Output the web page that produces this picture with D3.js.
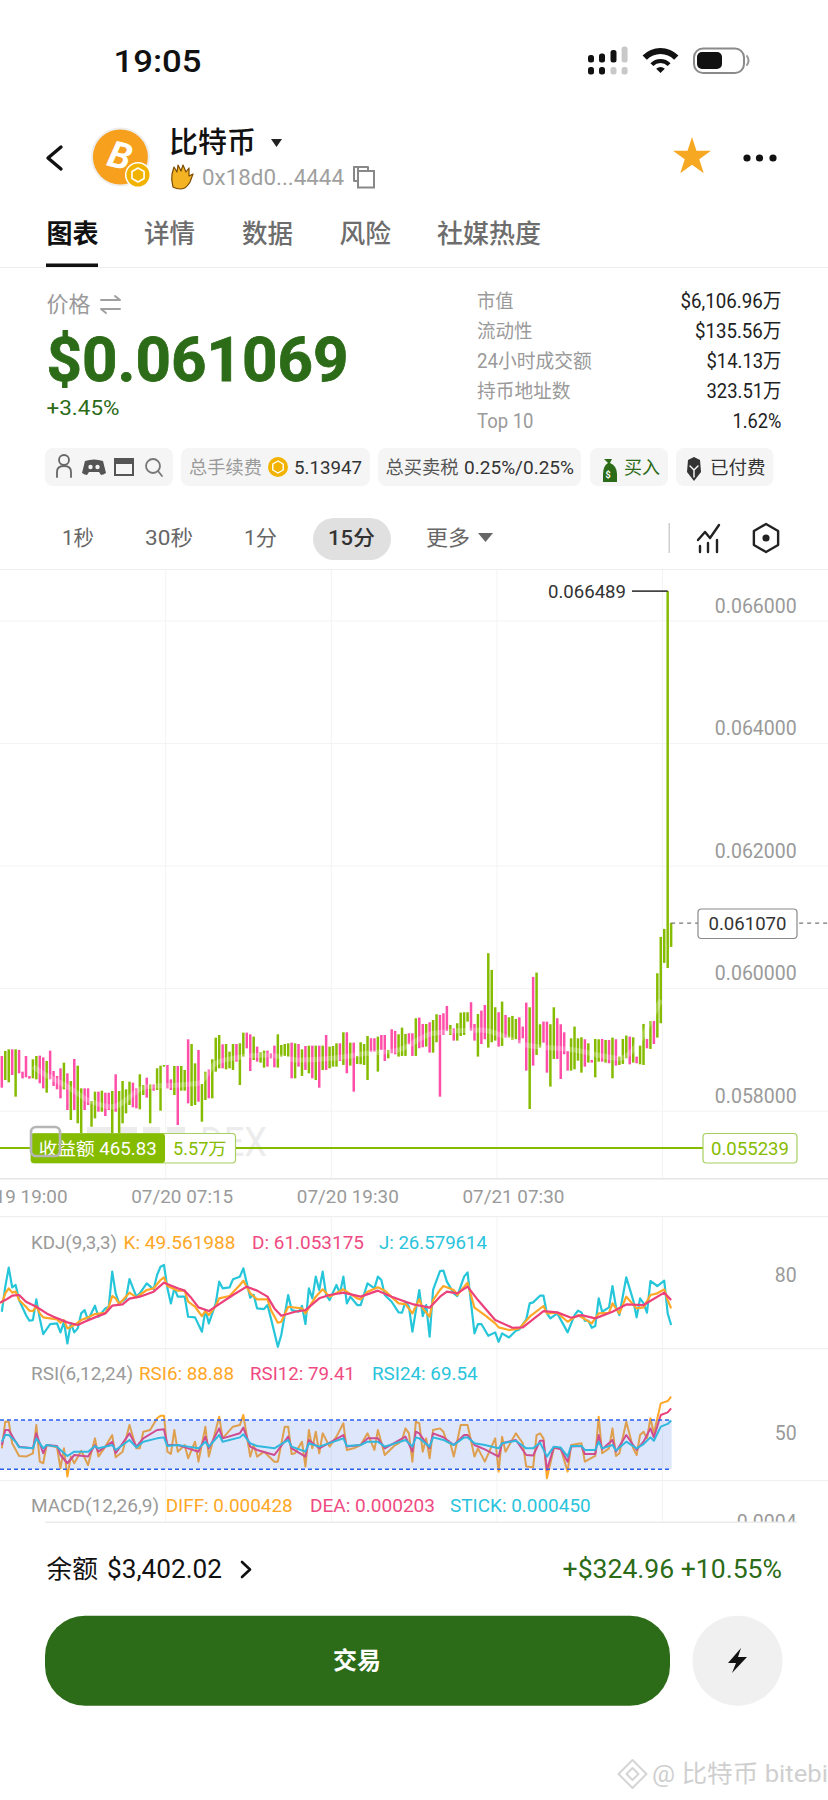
<!DOCTYPE html>
<html><head><meta charset="utf-8">
<script src="https://cdn.jsdelivr.net/npm/d3@7/dist/d3.min.js"></script>
<style>html,body{margin:0;padding:0;background:#fff}svg{display:block}
text{font-family:Roboto,"Noto Sans CJK SC",sans-serif}</style></head><body>
<svg id="c" width="828" height="1800" viewBox="0 0 828 1800"></svg>
<script>
// ---------- data: prices in millionths of a dollar ----------
const highs=[58901,58983,59010,59010,59010,59000,58645,58901,58575,58847,58901,58907,58879,58820,58988,58656,58575,58700,58792,58618,58493,58852,58743,58373,58373,58373,58166,58319,58319,58335,58302,58302,58330,58602,58330,58493,58357,58482,58466,58373,58602,58428,58547,58438,58438,58700,58743,58754,58754,58520,58738,58738,58738,58673,59173,59097,58781,59000,58444,58645,58683,58847,59200,59244,59092,59097,58972,59097,59097,59108,59282,59282,59255,59217,59054,58961,58988,58988,58945,59070,59255,59081,59097,59108,59119,59108,59097,59010,59064,59070,59070,59070,59070,59070,59244,59054,59064,59108,59108,59288,59288,59119,59119,58902,59125,59097,59228,59190,59190,59217,59244,59244,59000,59337,59310,59255,59364,59261,59272,59272,59517,59528,59424,59424,59451,59489,59582,59571,59598,59718,59408,59353,59435,59609,59615,59615,59778,59424,59587,59642,59734,60578,60306,59696,59615,59789,59571,59533,59555,59506,59533,59381,59772,59696,60192,60262,59419,59462,59462,59419,59696,59517,59419,59288,58983,59190,59381,59190,59206,59174,59108,58836,59179,59174,59179,59163,59163,59201,59174,58891,59179,59234,59217,59206,58891,59070,59424,59179,59473,59473,60251,60845,60975,66489,61073];
const lows=[58384,58509,58471,58591,58237,58618,58536,58553,58531,58536,58520,58455,58373,58302,58520,58411,58357,58210,58357,58019,57856,58019,57802,57611,58019,58101,57747,57883,57992,57992,57921,58019,57638,57992,57638,57802,57965,58101,58063,58047,58030,58264,58221,57802,58335,58346,58008,58727,58373,58346,58264,57774,58335,58335,58128,58085,58101,58155,57829,58183,58210,58210,58645,58700,58700,58683,58700,58673,58809,58428,58890,59026,58656,58836,58809,58792,58711,58727,58863,58716,58711,58890,58901,58890,58536,58536,58727,58575,58673,58618,58536,58509,58384,58673,58673,58700,58727,58727,58820,58755,58619,58744,58319,58771,58766,58755,58510,58972,58972,58646,59000,58820,58863,58945,58929,58891,58902,58902,59092,58902,58902,59027,59043,59054,58956,58956,59125,58237,59244,59310,59244,59152,59152,59228,59244,59462,59315,59152,58891,59097,59174,59038,59125,59152,59054,59065,59201,59201,59163,59174,59108,59190,58662,58036,58744,58918,59038,59119,58629,58401,58853,58853,58526,58929,58662,58662,58684,58825,58629,58727,58793,58793,58553,58809,58809,58793,58782,58537,58744,58755,58771,58863,58765,58793,58782,58765,58755,59027,59016,59097,59201,59435,60420,60338,60681];
// 1 = green, 0 = pink
const candleUp=[0,1,1,0,1,0,0,0,0,1,1,0,0,1,0,0,0,0,1,0,1,0,1,1,0,0,1,1,0,1,0,0,1,0,1,1,1,1,0,0,1,1,0,1,0,1,1,1,0,0,1,0,1,1,0,1,1,0,1,1,0,1,1,1,0,1,1,1,0,1,1,0,0,1,0,1,1,0,0,0,1,1,1,1,0,1,0,1,0,1,0,1,0,1,0,1,1,1,0,1,0,1,0,1,1,1,1,0,0,1,0,0,1,0,0,1,1,1,0,0,1,0,0,1,0,1,1,0,0,0,1,0,1,1,1,1,0,0,1,0,0,1,1,1,0,1,0,1,1,1,0,0,0,1,0,1,1,0,0,1,1,0,0,0,0,1,1,1,1,0,1,0,1,1,0,1,0,1,0,1,1,1,0,1,0,1,1,0,1,0,1,1,1,1,1];
const fadeBand=[[9,58727],[12,58618],[19,58401],[25,58183],[32,58074],[42,58401],[51,58428],[57,58455],[62,58782],[67,58863],[77,58918],[86,58836],[96,58863],[106,58945],[115,59000],[125,59272],[139,59326],[152,59081],[166,58999],[179,58863],[191,59816]];
const priceTicks=[58000,60000,62000,64000,66000];
const timeTickIdx=[-0.5,47.5,95.5,143.5,191.5];
const timeTickLabels=["07/19 19:00","07/20 07:15","07/20 19:30","07/21 07:30",""];
const lastPrice=61070, highPrice=66489;
const kdjJ=[[0,44.9],[1,79.5],[2,105.7],[3,78.6],[4,81.8],[5,61],[7,40.3],[8,32.5],[9,33.4],[10,62],[11,35.7],[12,14],[14,27.9],[16,28.8],[17,16.4],[18,31.1],[19,1.1],[20,28.8],[21,16.4],[22,21.9],[23,42.6],[24,47.2],[25,33.4],[27,53.2],[28,38],[30,49.5],[31,51.8],[32,100.2],[33,70.3],[34,56.4],[36,63.4],[37,90],[39,65.7],[40,70.3],[42,84.1],[44,75.8],[45,95.6],[46,107.1],[47,109.4],[48,77.2],[49,56.4],[50,77.2],[51,65.7],[53,65.7],[54,38],[56,37.1],[58,17.3],[59,47.2],[60,28.8],[62,56.4],[63,86.4],[64,77.2],[66,78.6],[67,89.6],[69,93.3],[70,104.8],[72,64.3],[73,68],[74,49.5],[76,48.6],[77,54.1],[78,35.7],[80,-3.5],[81,12.7],[83,68],[84,47.2],[86,44.9],[87,52.8],[88,27.9],[89,77.2],[90,63.4],[91,93.3],[92,74.9],[93,100.2],[94,68],[95,61],[97,81.8],[98,70.3],[99,93.3],[100,56.4],[101,65.7],[103,54.1],[104,54.1],[106,84.1],[108,77.2],[109,93.3],[110,88.7],[111,68],[113,58.7],[115,44],[116,43.5],[117,58.7],[118,51.8],[119,17.3],[121,74.9],[122,38.9],[123,54.1],[124,10.4],[125,74.9],[127,101.1],[128,101.6],[129,86.4],[131,70.3],[132,66.6],[134,93.3],[135,99.3],[137,15],[138,27.9],[139,27.9],[141,11.7],[143,16.4],[144,3.4],[145,15],[147,9.4],[149,18.6],[150,20.5],[152,34.3],[153,56.4],[154,57.8],[156,67],[157,67],[158,42.6],[159,35.7],[161,42.6],[164,16.4],[166,40.3],[167,46.3],[168,44],[169,32.5],[170,32.5],[171,22.8],[172,25.1],[173,63.4],[174,44.9],[176,50.9],[177,80.4],[178,51.8],[179,40.3],[181,92.4],[183,61],[184,37.1],[185,63.4],[186,56.4],[187,43.5],[188,87.3],[190,80.4],[192,87.8],[193,42.6],[194,26.58]];
const kdjK=[[0,56.4],[1,70.3],[2,77.2],[3,71.2],[4,72.6],[5,61],[7,51.8],[8,46.3],[9,45.8],[10,52.8],[11,42.6],[12,37.1],[16,34.3],[17,29.7],[18,33.4],[19,21.9],[21,26.5],[23,33.4],[25,37.1],[27,41.7],[30,43.5],[31,51.8],[32,66.6],[33,63.4],[34,55.5],[37,71.2],[39,64.7],[42,74.9],[44,77.2],[46,88.7],[47,92.4],[48,80.4],[51,74],[53,74],[54,58.7],[56,51.8],[58,38.9],[59,45.8],[60,40.3],[62,52.8],[63,63.4],[66,66.6],[69,81.8],[70,87.8],[72,70.3],[74,62],[77,62],[78,47.2],[80,29.7],[81,31.1],[83,51.8],[87,49.5],[88,42.6],[91,65.7],[93,75.8],[95,65.7],[99,75.8],[103,63.4],[104,62],[106,72.6],[109,78.6],[111,74],[115,56.4],[117,55.5],[119,42.6],[121,62],[122,49.5],[124,38],[125,61],[127,74.9],[128,80.4],[131,74.9],[132,68],[135,85],[137,50.5],[140,40.3],[143,28.8],[144,23.3],[147,19.6],[150,21.9],[153,38],[157,52.8],[158,42.6],[161,43.5],[164,31.1],[167,40.3],[171,28.8],[173,42.6],[176,43.5],[177,56.4],[179,42.6],[181,65.7],[184,49.5],[186,50.9],[188,68],[190,70.3],[192,75.8],[193,61],[194,49.56]];
const kdjD=[[-1,56.4],[1,61],[3,67],[5,68],[7,58.7],[10,51.8],[13,42.6],[15,38],[19,30.2],[22,26.5],[24,31.1],[27,37.1],[30,42.6],[32,53.2],[35,55],[37,62.9],[40,65.7],[44,72.6],[47,85],[51,77.2],[53,74],[55,63.4],[57,50.9],[60,45.8],[63,55.5],[67,68],[71,79.5],[74,74],[77,65.7],[79,49.5],[81,39.4],[85,44.9],[88,47.2],[92,63.4],[95,68],[99,71.2],[104,65.7],[109,74],[113,65.7],[117,58.7],[119,55.5],[124,50.5],[127,65.7],[129,72.6],[132,70.3],[135,79.5],[138,61],[143,33.4],[148,22.8],[151,23.3],[157,45.8],[161,44],[165,36.6],[168,40.3],[172,35.7],[177,44.9],[181,55],[186,54.1],[192,71.2],[194,61.05]];
const rsi6=[[0,47],[1,68.6],[2,68.6],[3,51.1],[5,40.8],[7,40.3],[9,43],[10,65.9],[11,36.2],[12,34.9],[13,49.7],[16,47.8],[17,30.8],[18,47],[19,24.1],[20,40.3],[21,34.9],[23,45.1],[25,33.5],[27,55.1],[28,40.3],[30,48.4],[32,57.8],[33,39.7],[35,44.3],[37,65.9],[39,47],[40,47],[41,60.5],[43,61.9],[45,71.4],[46,73.5],[47,73.5],[48,44.3],[49,42.4],[50,61.9],[51,44.3],[53,49.7],[54,38.9],[56,52.4],[57,36.2],[59,64.6],[60,40.3],[62,61.9],[63,72.7],[64,55.1],[67,64.6],[69,65.9],[70,74.1],[72,40.3],[73,49.7],[74,40.3],[76,44.3],[79,36.2],[80,36.2],[82,64.6],[83,64.6],[84,42.4],[85,43],[87,52.4],[88,32.2],[89,61.9],[90,47],[91,60.5],[92,43],[93,59.2],[95,48.4],[97,56.5],[99,67.3],[100,45.7],[102,47],[104,49.7],[106,59.2],[108,45.7],[109,61.9],[111,41.6],[114,49.7],[115,51.1],[116,53.8],[117,63.2],[118,59.2],[119,36.2],[120,68.6],[121,67.3],[122,44.3],[123,55.1],[124,38.9],[125,61.9],[127,63.2],[128,60.5],[129,52.4],[130,51.1],[131,40.3],[133,65.9],[135,65.9],[137,40.3],[138,47],[140,36.2],[143,55.1],[144,28.1],[145,56.5],[146,44.3],[149,59.2],[151,51.1],[152,32.2],[154,31.6],[155,57.8],[156,59.2],[157,55.1],[158,22.7],[160,47],[162,47],[164,28.1],[165,49.7],[168,51.1],[169,36.2],[172,40.8],[173,72.7],[174,43],[176,47],[177,63.2],[178,40.8],[179,43],[181,68.6],[183,47],[184,41.6],[185,57.8],[186,60.5],[187,55.1],[188,71.4],[189,59.2],[191,83.5],[193,85.4],[194,88.88]];
const rsi12=[[0,49.7],[1,61.9],[2,61.9],[4,52.4],[5,48.4],[9,47],[10,59.2],[12,43],[13,49.7],[16,48.9],[17,41.6],[19,34.9],[21,41.6],[25,40.3],[27,49.7],[28,44.3],[32,52.4],[33,43],[37,59.2],[39,48.4],[41,55.1],[45,61.9],[47,62.4],[48,49.7],[51,49.7],[54,47],[57,44.3],[59,56.5],[60,47],[63,63.2],[64,55.1],[69,59.2],[70,63.8],[72,48.4],[74,45.7],[79,41.6],[83,56.5],[84,47],[88,40.3],[89,53.8],[92,47],[99,57.8],[100,48.4],[104,49.7],[106,55.1],[109,55.1],[111,47],[117,56.5],[119,44.3],[120,60.5],[121,59.2],[124,47],[125,59.2],[128,56],[131,49.7],[134,57.8],[135,57.8],[137,49.7],[140,46.2],[144,40.3],[145,51.1],[149,53.8],[152,41.6],[154,41.1],[156,53.2],[157,53.2],[158,29.5],[160,47.8],[162,46.2],[164,36.2],[165,48.4],[168,48.9],[169,42.4],[172,42.4],[173,57.8],[174,46.2],[177,53.8],[178,44.3],[181,57.8],[184,45.7],[186,52.4],[188,63.2],[189,55.9],[191,74.1],[193,76.2],[194,79.41]];
const rsi24=[[0,52.4],[1,57.8],[2,57.8],[4,52.4],[5,47.8],[9,47],[10,55.1],[12,47],[13,49.7],[16,48.4],[17,45.7],[19,40.8],[21,44.3],[25,44.3],[27,48.9],[28,47],[32,49.7],[33,45.7],[37,53.8],[39,47.8],[41,52.4],[45,55.1],[47,55.9],[48,48.9],[51,49.7],[54,48.4],[57,47],[59,52.4],[60,48.4],[63,57.8],[64,52.4],[69,55.9],[70,58.4],[72,51.1],[74,48.9],[79,47],[83,53.8],[84,48.4],[88,44.3],[89,51.1],[92,48.4],[99,55.1],[100,48.9],[104,49.7],[106,52.4],[109,52.4],[111,48.4],[117,53.8],[119,48.4],[120,55.9],[121,55.1],[124,48.4],[125,55.9],[128,53.8],[131,49.7],[134,55.9],[135,55.9],[137,51.1],[140,49.7],[144,47],[145,51.1],[149,53.2],[152,47],[154,47],[156,51.6],[158,40.3],[160,48.4],[162,47.6],[164,40.3],[165,48.9],[168,48.9],[169,45.7],[172,45.7],[173,52.4],[174,47],[177,49.7],[178,45.2],[181,52.4],[184,47],[186,50.5],[188,55.9],[189,53.2],[191,64.6],[193,66.8],[194,69.54]];
const rsiBand=[30,70];
const tabs=["图表","详情","数据","风险","社媒热度"];
const intervals=["1秒","30秒","1分","15分","更多"];
const stats=[["市值","$6,106.96万"],["流动性","$135.56万"],["24小时成交额","$14.13万"],["持币地址数","323.51万"],["Top 10","1.62%"]];

// ---------- helpers ----------
const svg=d3.select("#c");
const GREEN="#2c6b17",CG="#86bc00",CP="#ff4fa8",OR="#ffa726",PK="#ec407a",CY="#26c6da",GR="#9a9a9a";
function t(s,x,y,o={}){const e=(o.g||svg).append("text").text(s).attr("x",x).attr("y",y)
 .attr("dominant-baseline","central").attr("font-size",o.size||18).attr("fill",o.fill||"#222")
 .attr("font-weight",o.weight||400).attr("text-anchor",o.anchor||"start");
 if(o.w)e.attr("textLength",o.w).attr("lengthAdjust","spacingAndGlyphs");
 if(o.family)e.style("font-family",o.family);return e;}
const R=(x,y,w,h,f,r=0)=>svg.append("rect").attr("x",x).attr("y",y).attr("width",w).attr("height",h).attr("fill",f).attr("rx",r);
const P=(d,f,s,sw)=>svg.append("path").attr("d",d).attr("fill",f||"none").attr("stroke",s||"none").attr("stroke-width",sw||0).attr("stroke-linecap","round").attr("stroke-linejoin","round");
const C=(x,y,r,f)=>svg.append("circle").attr("cx",x).attr("cy",y).attr("r",r).attr("fill",f);

// ---------- scales ----------
const x=d3.scaleLinear().domain([0,194]).range([1.83,671.13]);
const y=d3.scaleLinear().domain([58000,66000]).range([1111.2,621]);
const yK=d3.scaleLinear().domain([80,26.58]).range([1286.3,1325]);
const yR=d3.scaleLinear().domain([70,30]).range([1420,1469.3]);

// ---------- status bar ----------
t("19:05",113.5,61.5,{size:31,weight:500,fill:"#111",w:88});
[591,602,613.5,624.6].forEach((cx,i)=>{const top=[55,53.5,50,46.5][i];
 R(cx-3,top,6,62.5-top,i==3?"#c8c8c8":"#111",2.5);R(cx-3,67,6,7.5,i<2?"#111":"#c8c8c8",2.5);});
const arc=d3.arc();[[0,6],[10,14],[19,25]].forEach(([a,b])=>
 P(arc({innerRadius:a,outerRadius:b,startAngle:-0.8,endAngle:0.8}),"#111").attr("transform","translate(660.5,73)"));
svg.append("rect").attr("x",694).attr("y",48.5).attr("width",50).attr("height",24.5).attr("rx",9).attr("fill","#fff").attr("stroke","#8a8a8a").attr("stroke-width",2);
R(697,52,25,17,"#111",5);P("M747 56q3 4.500 0 9","none","#999",2);

// ---------- header ----------
P("M61 147L48 158L61 169","none","#111",3.4);
C(120.4,157,29.5,"#eee");C(120.4,157,27.5,"#f6a01e");
t("B",120,156,{size:37,weight:700,fill:"#fff",anchor:"middle"}).attr("transform","rotate(14 120 156)").attr("font-style","italic");
C(138,175,13,"#fff");C(138,175,11.500,"#f2b300");
P(d3.line()(d3.range(6).map(i=>[138+7*Math.sin(i*Math.PI/3),175-7*Math.cos(i*Math.PI/3)]))+"Z","none","#fff",1.6);
t("比特币",169,143,{size:29,weight:500,fill:"#111",w:87});
P("M271 139h11l-5.500 8z","#222");
P("M173 187q-2-7-1-13l2-7 3 5 1-7 3 6 2-6 3 7 3-4 0 8 4-2-3 8q-4 7-9 7q-5 0-8-2z","#f4b322","#7a4b00",1.2);
t("0x18d0...4444",202,177,{size:22,fill:"#a0a0a0",w:142});
svg.append("rect").attr("x",358).attr("y",171).attr("width",16).attr("height",16.5).attr("fill","#fff").attr("stroke","#888").attr("stroke-width",2);
P("M358 171v-4h-4v14h4","none","#888",2);P("M354 167h14v4","none","#888",2);
P(d3.symbol(d3.symbolStar,449)(),"#f7a823").attr("transform","translate(692,157)");
[747,759.5,773].forEach(cx=>C(cx,158,3.6,"#111"));

// ---------- tabs ----------
[[46.5,52],[144,51],[242,51],[339.5,51.5],[437,104]].forEach(([tx,tw],i)=>
 t(tabs[i],tx,234,{size:26,weight:i==0?700:500,fill:i==0?"#111":"#6d6d6d",w:tw}));
R(0,267,828,1,"#eeeeee");R(46,263.500,52,3.500,"#111");

// ---------- price block ----------
t("价格",46.5,304.6,{size:22,fill:GR,w:44});
P("M101 300h19l-5-4M120 309h-19l5 4","none","#a0a0a0",2);
t("$0.061069",46.5,359,{size:62,weight:700,fill:GREEN,w:302}).attr("stroke",GREEN).attr("stroke-width",.8);
t("+3.45%",46.5,408,{size:21,fill:GREEN,w:73});
const labelW=[36.5,55.5,114.6,93.5,56.5], valueW=[101,86.6,75,75,49];
stats.forEach((d,i)=>{const ry=301+i*30.1;
 t(d[0],477,ry,{size:19.500,fill:GR,w:labelW[i]});t(d[1],781.5,ry,{size:20,fill:"#222",anchor:"end",w:valueW[i]});});

// ---------- chips ----------
[[45,128],[181,189],[378,203],[590,78],[676,97.5]].forEach(([cx,cw])=>R(cx,448,cw,38,"#f5f5f5",8));
svg.append("circle").attr("cx",64).attr("cy",460).attr("r",5).attr("fill","none").attr("stroke","#666").attr("stroke-width",1.8);
P("M57 477v-5q0-6 7-6t7 6v5","none","#666",1.8);
P("M85 461q9-3 18 0l3 12q-3 2-5 2l-2-3h-10l-2 3q-2 0-5-2z","#555");
C(90.5,467,2.2,"#f5f5f5");C(97.5,467,2.2,"#f5f5f5");
svg.append("rect").attr("x",115).attr("y",459).attr("width",18).attr("height",16).attr("fill","none").attr("stroke","#555").attr("stroke-width",2);R(115,459,18,5,"#555");
svg.append("circle").attr("cx",153).attr("cy",466).attr("r",7).attr("fill","none").attr("stroke","#777").attr("stroke-width",1.8);P("M158 471l4 5","none","#777",1.8);
t("总手续费",189,467,{size:18,fill:GR,w:73});
C(278,467,10,"#f2b300");P(d3.line()(d3.range(6).map(i=>[278+6*Math.sin(i*Math.PI/3),467-6*Math.cos(i*Math.PI/3)]))+"Z","none","#fff",1.4);
t("5.13947",294,467,{size:18,fill:"#333",w:68});
t("总买卖税",385.5,467,{size:18,fill:"#555",w:73});
t("0.25%/0.25%",464,467,{size:18,fill:"#333",w:110});
P("M604 459h8l-2 4q7 3 7 11v8h-14v-8q0-8 5-11z",GREEN);t("$",608,475,{size:9,fill:"#fff",anchor:"middle",weight:700});
t("买入",624,467,{size:18,fill:GREEN,w:36});
P("M688 460l6-3 6 3 1 12-7 9-7-9z","#333");P("M690 466l4 4 4-4M694 470v7","none","#fff",1.4);
t("已付费",710,467,{size:18,fill:"#333",w:55.500});

// ---------- interval row ----------
R(313,518,78,42,"#e0e0e0",21);
[[62,32],[145,48],[244,33],[328,47],[426,44]].forEach(([ix,iw],i)=>
 t(intervals[i],ix,538,{size:21,weight:i==3?500:400,fill:i==3?"#333":"#666",w:iw}));
P("M478 533h15l-7.500 9z","#666");
R(668.5,523,1.500,30,"#cfcfcf");
P("M698 540l7-8 5 6 9-13","none","#222",2.4);["M700 552v-6","M708 552v-9","M717 552v-12"].forEach(d=>P(d,"none","#222",2.4));
P(d3.line()(d3.range(6).map(i=>[766+14*Math.sin(i*Math.PI/3),538-14*Math.cos(i*Math.PI/3)]))+"Z","none","#222",2.4);C(766,538,3.6,"#222");

// ---------- main chart ----------
R(0,569,828,1,"#eeeeee");
const wm=svg.append("g").attr("fill","#ececec");
[[87,26],[120,17],[143,17],[167,18]].forEach(([a,b])=>wm.append("rect").attr("x",a).attr("y",1127).attr("width",b).attr("height",8));
t("DEX",200,1142,{size:40,fill:"#ececec",g:wm,w:67});
const grid=svg.append("g").attr("stroke","#f3f3f3").attr("stroke-width",1);
priceTicks.forEach(v=>grid.append("line").attr("x1",0).attr("x2",828).attr("y1",y(v)).attr("y2",y(v)));
timeTickIdx.slice(1).forEach(i=>{grid.append("line").attr("x1",x(i)).attr("x2",x(i)).attr("y1",570).attr("y2",1178);
 grid.append("line").attr("x1",x(i)).attr("x2",x(i)).attr("y1",1216).attr("y2",1522);});
R(0,1178,828,1.500,"#e6e6e6");

// candles
svg.append("g").selectAll("line").data(highs).join("line")
 .attr("x1",(d,i)=>x(i)).attr("x2",(d,i)=>x(i))
 .attr("y1",d=>y(d)).attr("y2",(d,i)=>y(lows[i]))
 .attr("stroke",(d,i)=>candleUp[i]?CG:CP).attr("stroke-width",2.5);
svg.append("path").attr("d",d3.line().x(d=>x(d[0])).y(d=>y(d[1])).curve(d3.curveMonotoneX)(fadeBand))
 .attr("fill","none").attr("stroke","#fff").attr("stroke-opacity",.25).attr("stroke-width",5);

// price axis
const pa=svg.append("g").attr("transform","translate(796.7,0)")
 .call(d3.axisLeft(y).tickValues(priceTicks).tickSize(0).tickFormat(d=>(d/1e6).toFixed(6)));
pa.select(".domain").remove();
pa.selectAll("text").attr("x",0).attr("dy",0).attr("dominant-baseline","central").attr("transform","translate(0,-15.5)")
 .attr("font-size",19.5).attr("fill",GR).style("font-family","Roboto").attr("text-anchor","end");

// high marker
t((highPrice/1e6).toFixed(6),548,y(highPrice),{size:19,fill:"#333",w:78});
svg.append("line").attr("x1",632).attr("x2",x(193)).attr("y1",y(highPrice)).attr("y2",y(highPrice)).attr("stroke","#444").attr("stroke-width",1.8);
// last price
svg.append("line").attr("x1",x(194)).attr("x2",828).attr("y1",y(lastPrice)).attr("y2",y(lastPrice)).attr("stroke","#777").attr("stroke-dasharray","4 4").attr("stroke-width",1.2);
svg.append("rect").attr("x",698).attr("y",909).attr("width",99).attr("height",29.5).attr("rx",3.500).attr("fill","#fff").attr("stroke","#8a8a8a").attr("stroke-width",1.2);
t((lastPrice/1e6).toFixed(6),747.5,923.7,{size:19,fill:"#333",anchor:"middle",w:78});

// position line
svg.append("line").attr("x1",0).attr("x2",703).attr("y1",1148).attr("y2",1148).attr("stroke",CG).attr("stroke-width",1.8);
svg.append("rect").attr("x",703).attr("y",1133.5).attr("width",94).attr("height",29.5).attr("rx",3.500).attr("fill","#fff").attr("stroke","#a8d060").attr("stroke-width",1.2);
t("0.055239",750,1148.5,{size:19,fill:CG,anchor:"middle",w:78});
svg.append("rect").attr("x",31).attr("y",1133.5).attr("width",204.5).attr("height",29.5).attr("rx",3.500).attr("fill","#fff").attr("stroke","#a8d060").attr("stroke-width",1.2);
R(31,1133.5,134,29.5,CG,3);
t("收益额 465.83",38.7,1148.5,{size:17.5,fill:"#fff",w:118});
t("5.57万",173,1148.5,{size:17.5,fill:CG,w:53.5});
svg.append("rect").attr("x",31).attr("y",1127).attr("width",29).attr("height",29).attr("rx",5).attr("fill","none").attr("stroke","#b5b5b5").attr("stroke-width",2.6);

// time axis
const ta=svg.append("g").attr("transform","translate(0,1178)")
 .call(d3.axisBottom(x).tickValues(timeTickIdx).tickSize(0).tickFormat((d,i)=>timeTickLabels[i]));
ta.select(".domain").remove();
ta.selectAll("text").attr("y",0).attr("dy",0).attr("dominant-baseline","central").attr("transform","translate(16,18.7)")
 .attr("font-size",19).attr("fill",GR).style("font-family","Roboto").attr("text-anchor","middle").attr("textLength",102).attr("lengthAdjust","spacingAndGlyphs");

// ---------- KDJ ----------
R(0,1216,828,1.200,"#efefef");R(0,1348,828,1.200,"#efefef");R(0,1480,828,1.200,"#f1f1f1");
[["KDJ(9,3,3)",31,86,GR],["K: 49.561988",123.5,112,OR],["D: 61.053175",252,112,"#ef4a81"],["J: 26.579614",379,108,"#29c4dc"]].forEach(d=>t(d[0],d[1],1242,{size:18,fill:d[3],w:d[2]}));
const lineOf=s=>d3.line().x(d=>x(d[0])).y(d=>s(d[1]));
[[kdjJ,CY],[kdjK,OR],[kdjD,PK]].forEach(([a,c])=>svg.append("path").attr("d",lineOf(yK)(a)).attr("fill","none").attr("stroke",c).attr("stroke-width",2.2).attr("stroke-linejoin","round"));
const ka=svg.append("g").attr("transform","translate(796.7,0)").call(d3.axisLeft(yK).tickValues([80]).tickSize(0));
ka.select(".domain").remove();
ka.selectAll("text").attr("x",0).attr("dy",0).attr("dominant-baseline","central").attr("transform","translate(0,-11.3)").attr("font-size",19.5).attr("fill",GR).style("font-family","Roboto").attr("text-anchor","end");

// ---------- RSI ----------
[["RSI(6,12,24)",31,102,GR],["RSI6: 88.88",139,95,OR],["RSI12: 79.41",250,105,"#ef4a81"],["RSI24: 69.54",372,105.700,"#29c4dc"]].forEach(d=>t(d[0],d[1],1373,{size:18,fill:d[3],w:d[2]}));
[[rsi6,OR],[rsi12,PK],[rsi24,CY]].forEach(([a,c])=>svg.append("path").attr("d",lineOf(yR)(a)).attr("fill","none").attr("stroke",c).attr("stroke-width",2).attr("stroke-linejoin","round"));
svg.append("rect").attr("x",0).attr("y",yR(rsiBand[1])).attr("width",x(194)+.5).attr("height",yR(rsiBand[0])-yR(rsiBand[1])).attr("fill","#5a82f0").attr("fill-opacity",.2);
rsiBand.forEach(v=>svg.append("line").attr("x1",0).attr("x2",x(194)+.5).attr("y1",yR(v)).attr("y2",yR(v)).attr("stroke","#2a5ff0").attr("stroke-width",1.5).attr("stroke-dasharray","4 3"));
const ra=svg.append("g").attr("transform","translate(796.7,0)").call(d3.axisLeft(yR).tickValues([50]).tickSize(0));
ra.select(".domain").remove();
ra.selectAll("text").attr("x",0).attr("dy",0).attr("dominant-baseline","central").attr("transform","translate(0,-11.700)").attr("font-size",19.5).attr("fill",GR).style("font-family","Roboto").attr("text-anchor","end");

// ---------- MACD header ----------
[["MACD(12,26,9)",31,128,GR],["DIFF: 0.000428",165.7,127,OR],["DEA: 0.000203",310,125,"#ef4a81"],["STICK: 0.000450",450,140.700,"#29c4dc"]].forEach(d=>t(d[0],d[1],1505,{size:18,fill:d[3],w:d[2]}));
t("0.0004",796.7,1522,{size:19.5,fill:GR,anchor:"end"});

// ---------- bottom sheet ----------
R(0,1522,828,278,"#fff");
R(45,1521.5,752,1.500,"#ececec");
t("余额",46.5,1569,{size:25,fill:"#111",w:51.5});
t("$3,402.02",107,1569,{size:25,fill:"#111",w:115});
P("M242 1562l8 7.500-8 7.500","none","#111",2.6);
t("+$324.96 +10.55%",782,1569,{size:25,fill:GREEN,anchor:"end",w:219.4});
R(45,1615.7,625,90,GREEN,40);
t("交易",357,1660.7,{size:24,weight:700,fill:"#fff",anchor:"middle"});
C(737.5,1660.7,45,"#f0f0f0");
P("M741 1648l-13 15h8l-4 10 15-16h-9z","#111");
P("M632.5 1760l14 14-14 14-14-14z","none","#d5d5d5",2);P("M632.500 1768l6 6-6 6-6-6z","none","#d5d5d5",2);
t("@ 比特币 bitebi",652,1774,{size:24,fill:"#cfcfcf",w:176});
</script></body></html>
